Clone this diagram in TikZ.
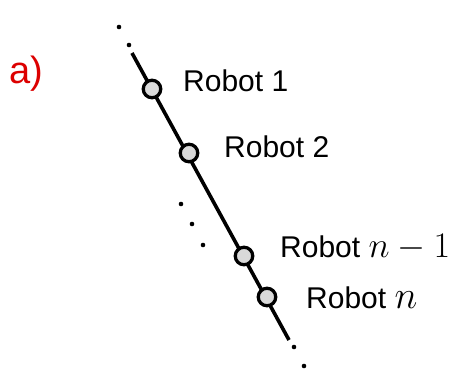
\RequirePackage{fix-cm}
\documentclass[tikz,border=0pt]{standalone}
\usepackage{fontspec}
\setmainfont{Liberation Sans}
\begin{document}
\begin{tikzpicture}[x=1pt,y=-1pt,
  robotnode/.style={circle,draw=black,line width=3.3pt,fill=black!15,minimum size=17.5pt,inner sep=0pt},
  lbl/.style={anchor=base west,inner sep=0pt,font=\fontsize{30}{36}\selectfont},
  dotmark/.style={circle,fill=black,minimum size=4.6pt,inner sep=0pt}]
\useasboundingbox (0,0) rectangle (462,369);
\node[anchor=base west,inner sep=0pt,text={rgb,255:red,220;green,0;blue,0},font=\fontsize{38}{44}\selectfont] (alabel) at (9,83) {a)};
\coordinate (s) at (132,53);
\coordinate (e) at (289,340);
\draw[line width=3.6pt] (s) -- (e);
\node[robotnode] (r1) at (152,89) {};
\node[robotnode] (r2) at (189,153) {};
\node[robotnode] (r3) at (244,256) {};
\node[robotnode] (r4) at (267,297) {};
\node[dotmark] (d1) at (119,27) {};
\node[dotmark] (d2) at (129,45) {};
\node[dotmark] (d3) at (181,204) {};
\node[dotmark] (d4) at (192,224) {};
\node[dotmark] (d5) at (203,245) {};
\node[dotmark] (d6) at (294,347) {};
\node[dotmark] (d7) at (304,366) {};
\node[lbl] (l1) at (183,91) {Robot 1};
\node[lbl] (l2) at (224,157) {Robot 2};
\node[lbl] (l3) at (280,257) {Robot {\fontsize{36}{40}\selectfont$n-1$}};
\node[lbl] (l4) at (306,308) {Robot {\fontsize{39}{44}\selectfont$n$}};
\end{tikzpicture}
\end{document}
